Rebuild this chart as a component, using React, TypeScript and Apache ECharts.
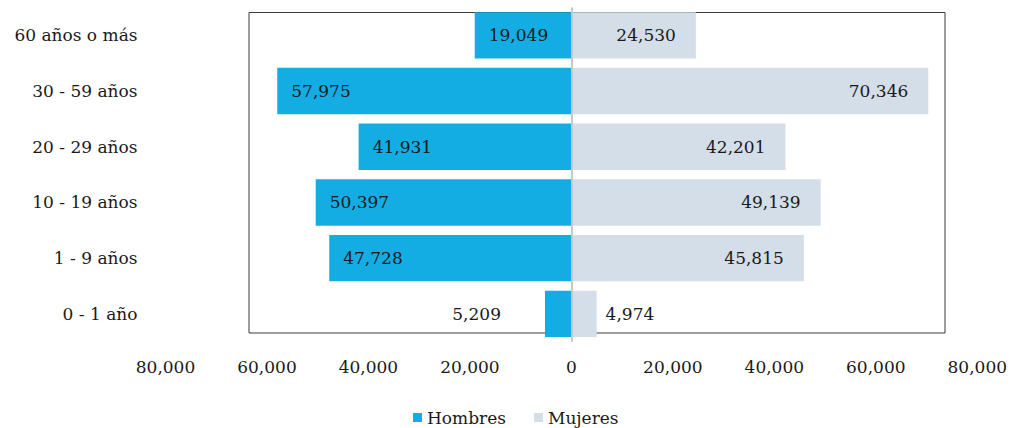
import React, { useEffect, useRef } from "react";
import * as echarts from "echarts";

const categories = ["60 años o más", "30 - 59 años", "20 - 29 años", "10 - 19 años", "1 - 9 años", "0 - 1 año"];
const hombres = [19049, 57975, 41931, 50397, 47728, 5209];
const mujeres = [24530, 70346, 42201, 49139, 45815, 4974];
const axisMin = -80000;
const axisMax = 80000;
const axisStep = 20000;

const FONT = "DejaVu Serif";
const fmt = (v: number) => Math.abs(v).toLocaleString("en-US");

export default function App() {
  const ref = useRef<HTMLDivElement>(null);
  useEffect(() => {
    document.body.style.margin = "0";
    const chart = echarts.init(ref.current!, undefined, { renderer: "svg" });
    const smallIdx = categories.length - 1;
    chart.setOption({
      animation: false,
      textStyle: { fontFamily: FONT },
      grid: { left: 165.5, right: 30, top: 7.5, height: 334.2, containLabel: false },
      xAxis: {
        type: "value",
        min: axisMin,
        max: axisMax,
        interval: axisStep,
        axisLine: { show: false },
        axisTick: { show: false },
        splitLine: { show: false },
        axisLabel: { fontFamily: FONT, fontSize: 17, color: "#1a1a1a", margin: 17, formatter: fmt },
      },
      yAxis: {
        type: "category",
        data: categories,
        inverse: true,
        axisLine: { show: false, onZero: false },
        axisTick: { show: false },
        axisLabel: { fontFamily: FONT, fontSize: 17, color: "#1a1a1a", margin: 28, align: "right", padding: [0, 0, 4, 0] },
      },
      legend: {
        data: ["Hombres", "Mujeres"],
        left: 408,
        top: 407,
        padding: [2, 5, 2, 5],
        icon: "rect",
        itemWidth: 9,
        itemHeight: 9,
        itemGap: 28,
        textStyle: { fontFamily: FONT, fontSize: 17, color: "#1a1a1a" },
      },
      graphic: [
        {
          type: "rect",
          z: 0,
          shape: { x: 249, y: 12.5, width: 696, height: 320.5 },
          style: { fill: "none", stroke: "#3a3a3a", lineWidth: 1 },
          silent: true,
        },
      ],
      series: [
        {
          name: "Hombres",
          type: "bar",
          barWidth: 46.4,
          barGap: "-100%",
          z: 3,
          itemStyle: { color: "#13ADE3" },
          data: hombres.map((v, i) =>
            i === smallIdx
              ? { value: -v, label: { position: "left", distance: 44 } }
              : { value: -v }
          ),
          label: {
            show: true,
            position: "insideLeft",
            distance: 14,
            fontFamily: FONT,
            fontSize: 17,
            color: "#1a1a1a",
            formatter: (p: any) => fmt(p.value),
          },
          markLine: {
            silent: true,
            symbol: "none",
            label: { show: false },
            lineStyle: { color: "#c8c8c8", width: 2, type: "solid" },
            data: [{ xAxis: 0 }],
            z: 10,
          },
        },
        {
          name: "Mujeres",
          type: "bar",
          barWidth: 46.4,
          barGap: "-100%",
          z: 3,
          itemStyle: { color: "#D3DEE9" },
          data: mujeres.map((v, i) =>
            i === smallIdx
              ? { value: v, label: { position: "right", distance: 9 } }
              : { value: v }
          ),
          label: {
            show: true,
            position: "insideRight",
            distance: 20,
            fontFamily: FONT,
            fontSize: 17,
            color: "#1a1a1a",
            formatter: (p: any) => fmt(p.value),
          },
        },
      ],
    });
    return () => chart.dispose();
  }, []);
  return <div ref={ref} style={{ width: 1010, height: 428 }} />;
}
